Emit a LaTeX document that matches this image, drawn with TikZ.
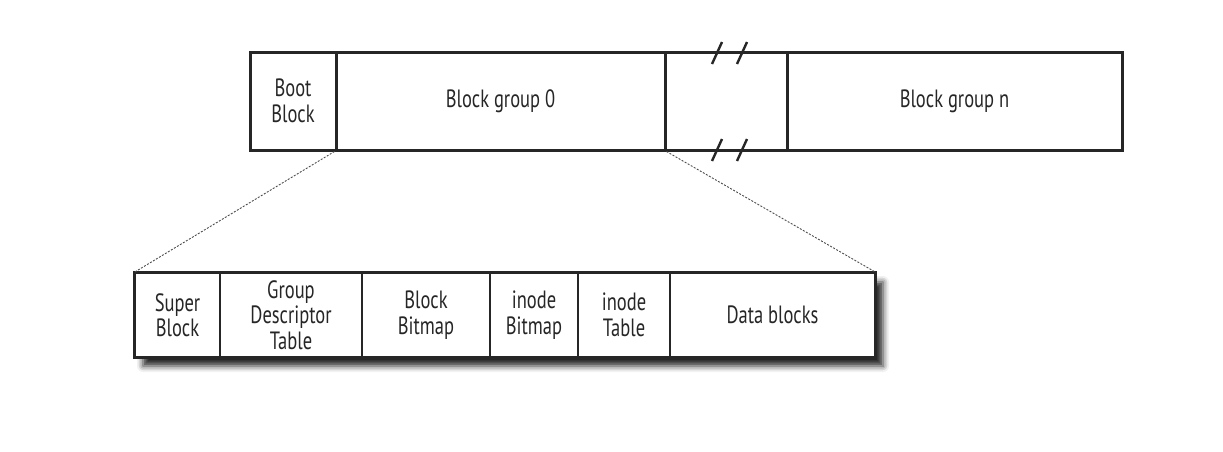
\documentclass[tikz,border=0pt]{standalone}
\usepackage{fontspec}
\setmainfont{PT Sans}[FakeStretch=0.74]
\usetikzlibrary{shadows.blur}
\begin{document}
\begin{tikzpicture}[x=1pt,y=-1pt,
  cell/.style={draw=black!85, line width=1.4pt, inner sep=0pt, align=center,
    font=\fontsize{25}{25.5}\selectfont, text=black!85},
  topcell/.style={cell, line width=3pt, minimum height=98pt},
  botcell/.style={cell, minimum height=84pt},
  frame/.style={draw=black!85, line width=3pt},
  zoomline/.style={draw=black!70, line width=0.9pt, dash pattern=on 2pt off 1.5pt},
  breakmark/.style={draw=black!85, line width=2.4pt}]
\useasboundingbox (0,0) rectangle (1223,451);
% top bar
\node[topcell, minimum width=86pt] (boot) at (293,101) {Boot\\Block};
\node[topcell, minimum width=329pt] (bg0) at (500.5,101) {Block group 0};
\node[topcell, minimum width=122pt] (gap) at (726,101) {};
\node[topcell, minimum width=335pt] (bgn) at (954.5,101) {Block group n};
% break marks
\coordinate (m1a) at (712,64); \coordinate (m1b) at (722,42);
\coordinate (m2a) at (737,64); \coordinate (m2b) at (747,42);
\coordinate (m3a) at (712,161); \coordinate (m3b) at (722,139);
\coordinate (m4a) at (737,161); \coordinate (m4b) at (747,139);
\draw[breakmark] (m1a) -- (m1b);
\draw[breakmark] (m2a) -- (m2b);
\draw[breakmark] (m3a) -- (m3b);
\draw[breakmark] (m4a) -- (m4b);
% bottom bar shadow
\node[fill=white, minimum width=740pt, minimum height=84pt, inner sep=0pt,
  blur shadow={shadow xshift=8pt, shadow yshift=-9pt, shadow blur radius=6pt, shadow opacity=85}]
  (bot) at (505,315) {};
\node[botcell, minimum width=85pt] (super) at (177.5,315) {Super\\Block};
\node[botcell, minimum width=142pt] (gdt) at (291,315) {Group\\Descriptor\\Table};
\node[botcell, minimum width=128pt] (bb) at (426,315) {Block\\Bitmap};
\node[botcell, minimum width=88pt] (ib) at (534,315) {inode\\Bitmap};
\node[botcell, minimum width=92pt] (it) at (624,315) {inode\\Table};
\node[botcell, minimum width=205pt] (data) at (772.5,315) {Data blocks};
\draw[frame] (super.north west) rectangle (data.south east);
% zoom lines
\draw[zoomline] (bg0.south west) -- (super.north west);
\draw[zoomline] (bg0.south east) -- (data.north east);
\end{tikzpicture}
\end{document}
